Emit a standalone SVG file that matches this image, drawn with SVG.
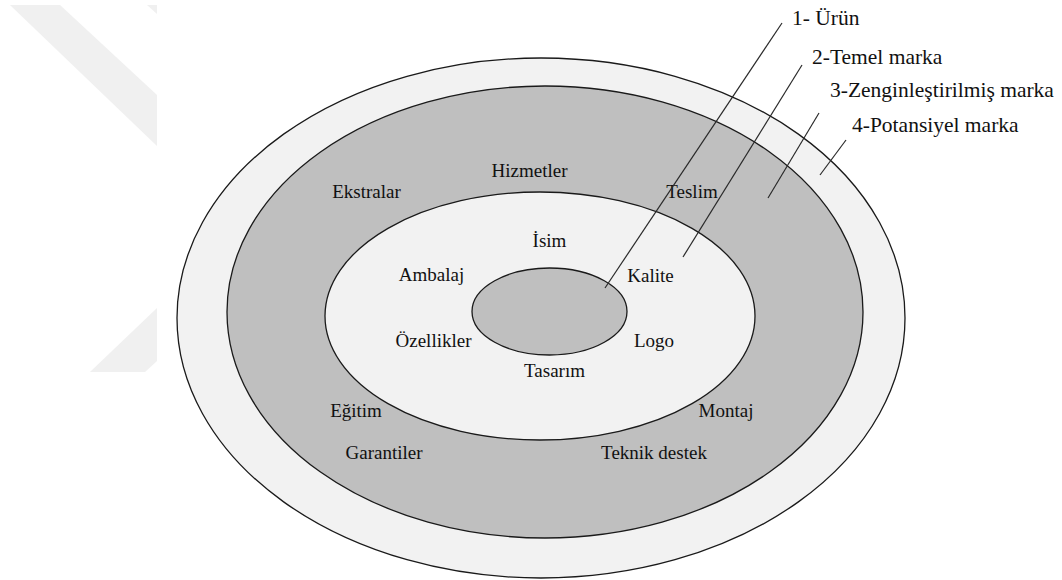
<svg xmlns="http://www.w3.org/2000/svg" width="1062" height="580" viewBox="0 0 1062 580">
<style>
.ring{stroke:#1a1a1a;stroke-width:1.3}
.light{fill:#f2f2f2}
.dark{fill:#bfbfbf}
.wm{fill:#f0f0f0}
.lbl{font-family:"Liberation Serif","Times New Roman",serif;font-size:19px;fill:#111;text-anchor:middle}
.top{font-family:"Liberation Serif","Times New Roman",serif;font-size:21.5px;fill:#111}
.lead{stroke:#2a2a2a;stroke-width:1.2;fill:none}
</style>
<rect width="1062" height="580" fill="#fff"/>
<g id="watermark">
<polygon class="wm" points="10,5 60,5 157,95 157,146"/>
<polygon class="wm" points="147,5 157,5 157,14"/>
<polygon class="wm" points="157,308 157,361 145,372 90,372"/>
</g>
<g id="potansiyel-marka"><ellipse class="ring light" cx="541" cy="318" rx="364" ry="260"/></g>
<g id="zenginlestirilmis-marka"><ellipse class="ring dark" cx="545" cy="312" rx="318" ry="226"/>
<text class="lbl" x="529.5" y="177">Hizmetler</text>
<text class="lbl" x="366.5" y="198">Ekstralar</text>
<text class="lbl" x="692" y="198">Teslim</text>
<text class="lbl" x="356" y="417">Eğitim</text>
<text class="lbl" x="726" y="417">Montaj</text>
<text class="lbl" x="384" y="459">Garantiler</text>
<text class="lbl" x="654" y="459">Teknik destek</text>
</g>
<g id="temel-marka"><ellipse class="ring light" cx="540" cy="316" rx="215" ry="124"/>
<text class="lbl" x="549.5" y="247">İsim</text>
<text class="lbl" x="431.5" y="281">Ambalaj</text>
<text class="lbl" x="650.5" y="282">Kalite</text>
<text class="lbl" x="433.5" y="347">Özellikler</text>
<text class="lbl" x="654" y="347">Logo</text>
<text class="lbl" x="554.5" y="377">Tasarım</text>
</g>
<g id="urun"><ellipse class="ring dark" cx="549.5" cy="311.5" rx="77.5" ry="43.5"/></g>
<g id="connectors">
<line class="lead" x1="782" y1="23" x2="605" y2="288"/>
<line class="lead" x1="802" y1="65" x2="683" y2="257"/>
<line class="lead" x1="819" y1="113" x2="768" y2="198"/>
<line class="lead" x1="846" y1="140" x2="820" y2="175"/>
</g>
<g id="legend">
<text class="top" x="792" y="25">1- Ürün</text>
<text class="top" x="812" y="64">2-Temel marka</text>
<text class="top" x="830" y="97">3-Zenginleştirilmiş marka</text>
<text class="top" x="852" y="132">4-Potansiyel marka</text>
</g>
</svg>
